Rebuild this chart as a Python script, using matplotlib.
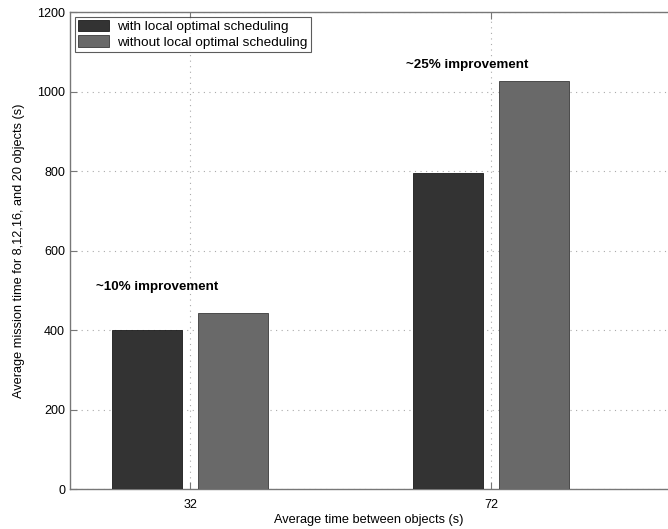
import matplotlib
matplotlib.use("Agg")
import matplotlib.pyplot as plt

plt.rcParams['font.family'] = ['Liberation Sans', 'DejaVu Sans']

groups = [32, 72]
with_local = [400, 795]
without_local = [443, 1027]
notes = ['~10% improvement', '~25% improvement']

fig = plt.figure(figsize=(6.68, 5.29), dpi=100)
ax = fig.add_axes([0.1048, 0.0756, 0.8952, 0.9017])

# two bars per group, either side of the tick
off, w = 5.7, 9.3
ax.bar([x - off for x in groups], with_local, width=w,
       color='#333333', edgecolor='#1a1a1a', linewidth=0.6,
       label='with local optimal scheduling', zorder=3)
ax.bar([x + off for x in groups], without_local, width=w,
       color='#696969', edgecolor='#3a3a3a', linewidth=0.6,
       label='without local optimal scheduling', zorder=3)

# improvement notes (left edge x, centre y)
note_pos = [(19.5, 508), (60.7, 1067)]
for (nx, ny), txt in zip(note_pos, notes):
    ax.text(nx, ny, txt, fontsize=9.6, fontweight='bold',
            ha='left', va='center')

ax.set_xlim(16.05, 95.5)
ax.set_ylim(0, 1200)
ax.set_xticks(groups)
ax.set_yticks(range(0, 1201, 200))
ax.tick_params(labelsize=9, direction='in', length=5, color='#777777',
               top=True)
ax.tick_params(axis='x', pad=7)
ax.grid(True, linestyle=(0, (1, 4)), color='#aaaaaa', linewidth=0.8, zorder=0)
ax.spines['right'].set_visible(False)
for s in ['top', 'left', 'bottom']:
    ax.spines[s].set_color('#777777')
    ax.spines[s].set_linewidth(1.0)

ax.set_xlabel('Average time between objects (s)', fontsize=9.2, labelpad=2)
ax.set_ylabel('Average mission time for 8,12,16, and 20 objects (s)',
              fontsize=9.2, labelpad=9)

leg = ax.legend(loc='upper left', fontsize=9.7, frameon=True, fancybox=False,
                edgecolor='#333333', borderpad=0.25, labelspacing=0.15,
                handlelength=2.3, handleheight=0.9, handletextpad=0.6,
                borderaxespad=0.35)
leg.get_frame().set_linewidth(0.8)

fig.savefig('out.png', dpi=100)
